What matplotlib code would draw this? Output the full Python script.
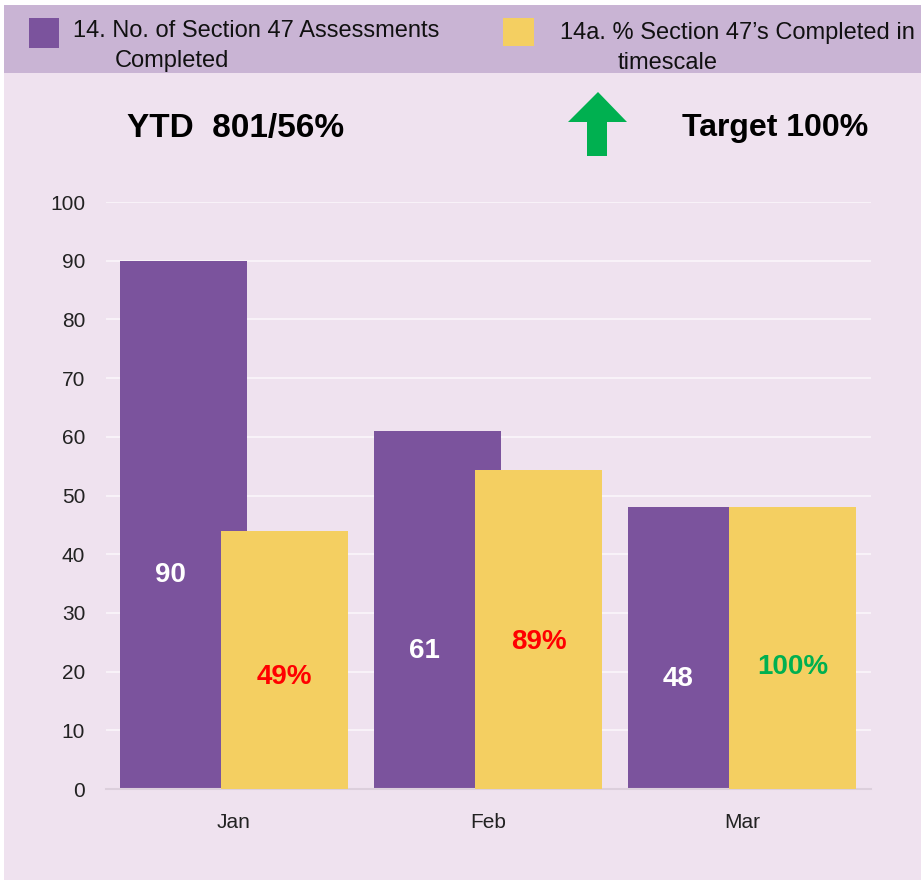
import matplotlib
matplotlib.use("Agg")
import matplotlib.pyplot as plt
from matplotlib.patches import Rectangle, Polygon

# data
months = ["Jan", "Feb", "Mar"]
assessments = [90, 61, 48]
timescale_heights = [44, 54.3, 48]
timescale_labels = ["49%", "89%", "100%"]
timescale_colors = ["#FF0000", "#FF0000", "#00B050"]
y_ticks = [0, 10, 20, 30, 40, 50, 60, 70, 80, 90, 100]

legend_a = ["14. No. of Section 47 Assessments", "Completed"]
legend_b = ["14a. % Section 47\u2019s Completed in", "timescale"]
ytd_text = "YTD  801/56%"
target_text = "Target 100%"

# label heights inside the bars (data units)
assess_label_y = [36.5, 23.5, 18.7]
timescale_label_y = [19.0, 25.0, 20.7]

PURPLE = "#7B539D"
YELLOW = "#F4CF61"
BG = "#EFE2EF"
BAND = "#C9B4D4"
W, H = 921, 880

plt.rcParams["font.family"] = ["Liberation Sans Narrow", "Liberation Sans", "DejaVu Sans"]

fig = plt.figure(figsize=(W / 100, H / 100), dpi=100, facecolor="white")


def fx(px):
    return px / W


def fy(py):
    return 1 - py / H


# background and legend band (behind the axes)
fig.patches.append(Rectangle((fx(4), 0), 1, fy(5), transform=fig.transFigure,
                             facecolor=BG, edgecolor="none", zorder=-3))
fig.patches.append(Rectangle((fx(4), fy(73)), 1, (73 - 5) / H, transform=fig.transFigure,
                             facecolor=BAND, edgecolor="none", zorder=-2))

# legend squares + text
fig.patches.append(Rectangle((fx(29), fy(48)), 30 / W, 30 / H, transform=fig.transFigure,
                             facecolor=PURPLE, edgecolor="none", zorder=-1))
fig.patches.append(Rectangle((fx(503), fy(46)), 31 / W, 28 / H, transform=fig.transFigure,
                             facecolor=YELLOW, edgecolor="none", zorder=-1))
fig.text(fx(73), fy(31), legend_a[0], fontsize=17, va="center", ha="left", color="#111111")
fig.text(fx(115), fy(61), legend_a[1], fontsize=17, va="center", ha="left", color="#111111")
fig.text(fx(560), fy(33), legend_b[0], fontsize=17, va="center", ha="left", color="#111111")
fig.text(fx(618), fy(63), legend_b[1], fontsize=17, va="center", ha="left", color="#111111")

# headline text
fig.text(fx(127), fy(128), ytd_text, fontsize=24, fontweight="bold", va="center", ha="left")
fig.text(fx(868), fy(128), target_text, fontsize=23, fontweight="bold", va="center", ha="right")

# green up arrow
arrow_px = [(598, 92), (627, 122), (607, 122), (607, 156), (587, 156), (587, 122), (568, 122)]
fig.patches.append(Polygon([(fx(x), fy(y)) for x, y in arrow_px], closed=True,
                           transform=fig.transFigure, facecolor="#00B050", edgecolor="none", zorder=-1))

# chart
ax = fig.add_axes([fx(106), fy(789), (871 - 106) / W, (789 - 202) / H])
ax.set_facecolor("none")
x = list(range(len(months)))
ax.bar([i - 0.2 for i in x], assessments, width=0.5, color=PURPLE, zorder=2)
ax.bar([i + 0.2 for i in x], timescale_heights, width=0.5, color=YELLOW, zorder=3)

for i in x:
    ax.text(i - 0.25, assess_label_y[i], str(assessments[i]), ha="center", va="center",
            fontsize=20, fontweight="bold", color="white", family="Liberation Sans", zorder=4)
    ax.text(i + 0.2, timescale_label_y[i], timescale_labels[i], ha="center", va="center",
            fontsize=20, fontweight="bold", color=timescale_colors[i], family="Liberation Sans", zorder=4)

ax.set_xlim(-0.504, 2.508)
ax.set_ylim(0, 100)
ax.set_yticks(y_ticks)
ax.set_xticks(x)
ax.set_xticklabels(months)
ax.grid(axis="y", color="#F8F2F8", linewidth=1.5, zorder=1)
ax.set_axisbelow(True)
for s in ["top", "right", "left"]:
    ax.spines[s].set_visible(False)
ax.spines["bottom"].set_color("#DCCFDC")
ax.spines["bottom"].set_linewidth(1.5)
ax.tick_params(axis="both", length=0, labelsize=15, colors="#222222")
ax.tick_params(axis="y", pad=15)
ax.tick_params(axis="x", pad=17)

fig.savefig("out.png", dpi=100, facecolor="white")
